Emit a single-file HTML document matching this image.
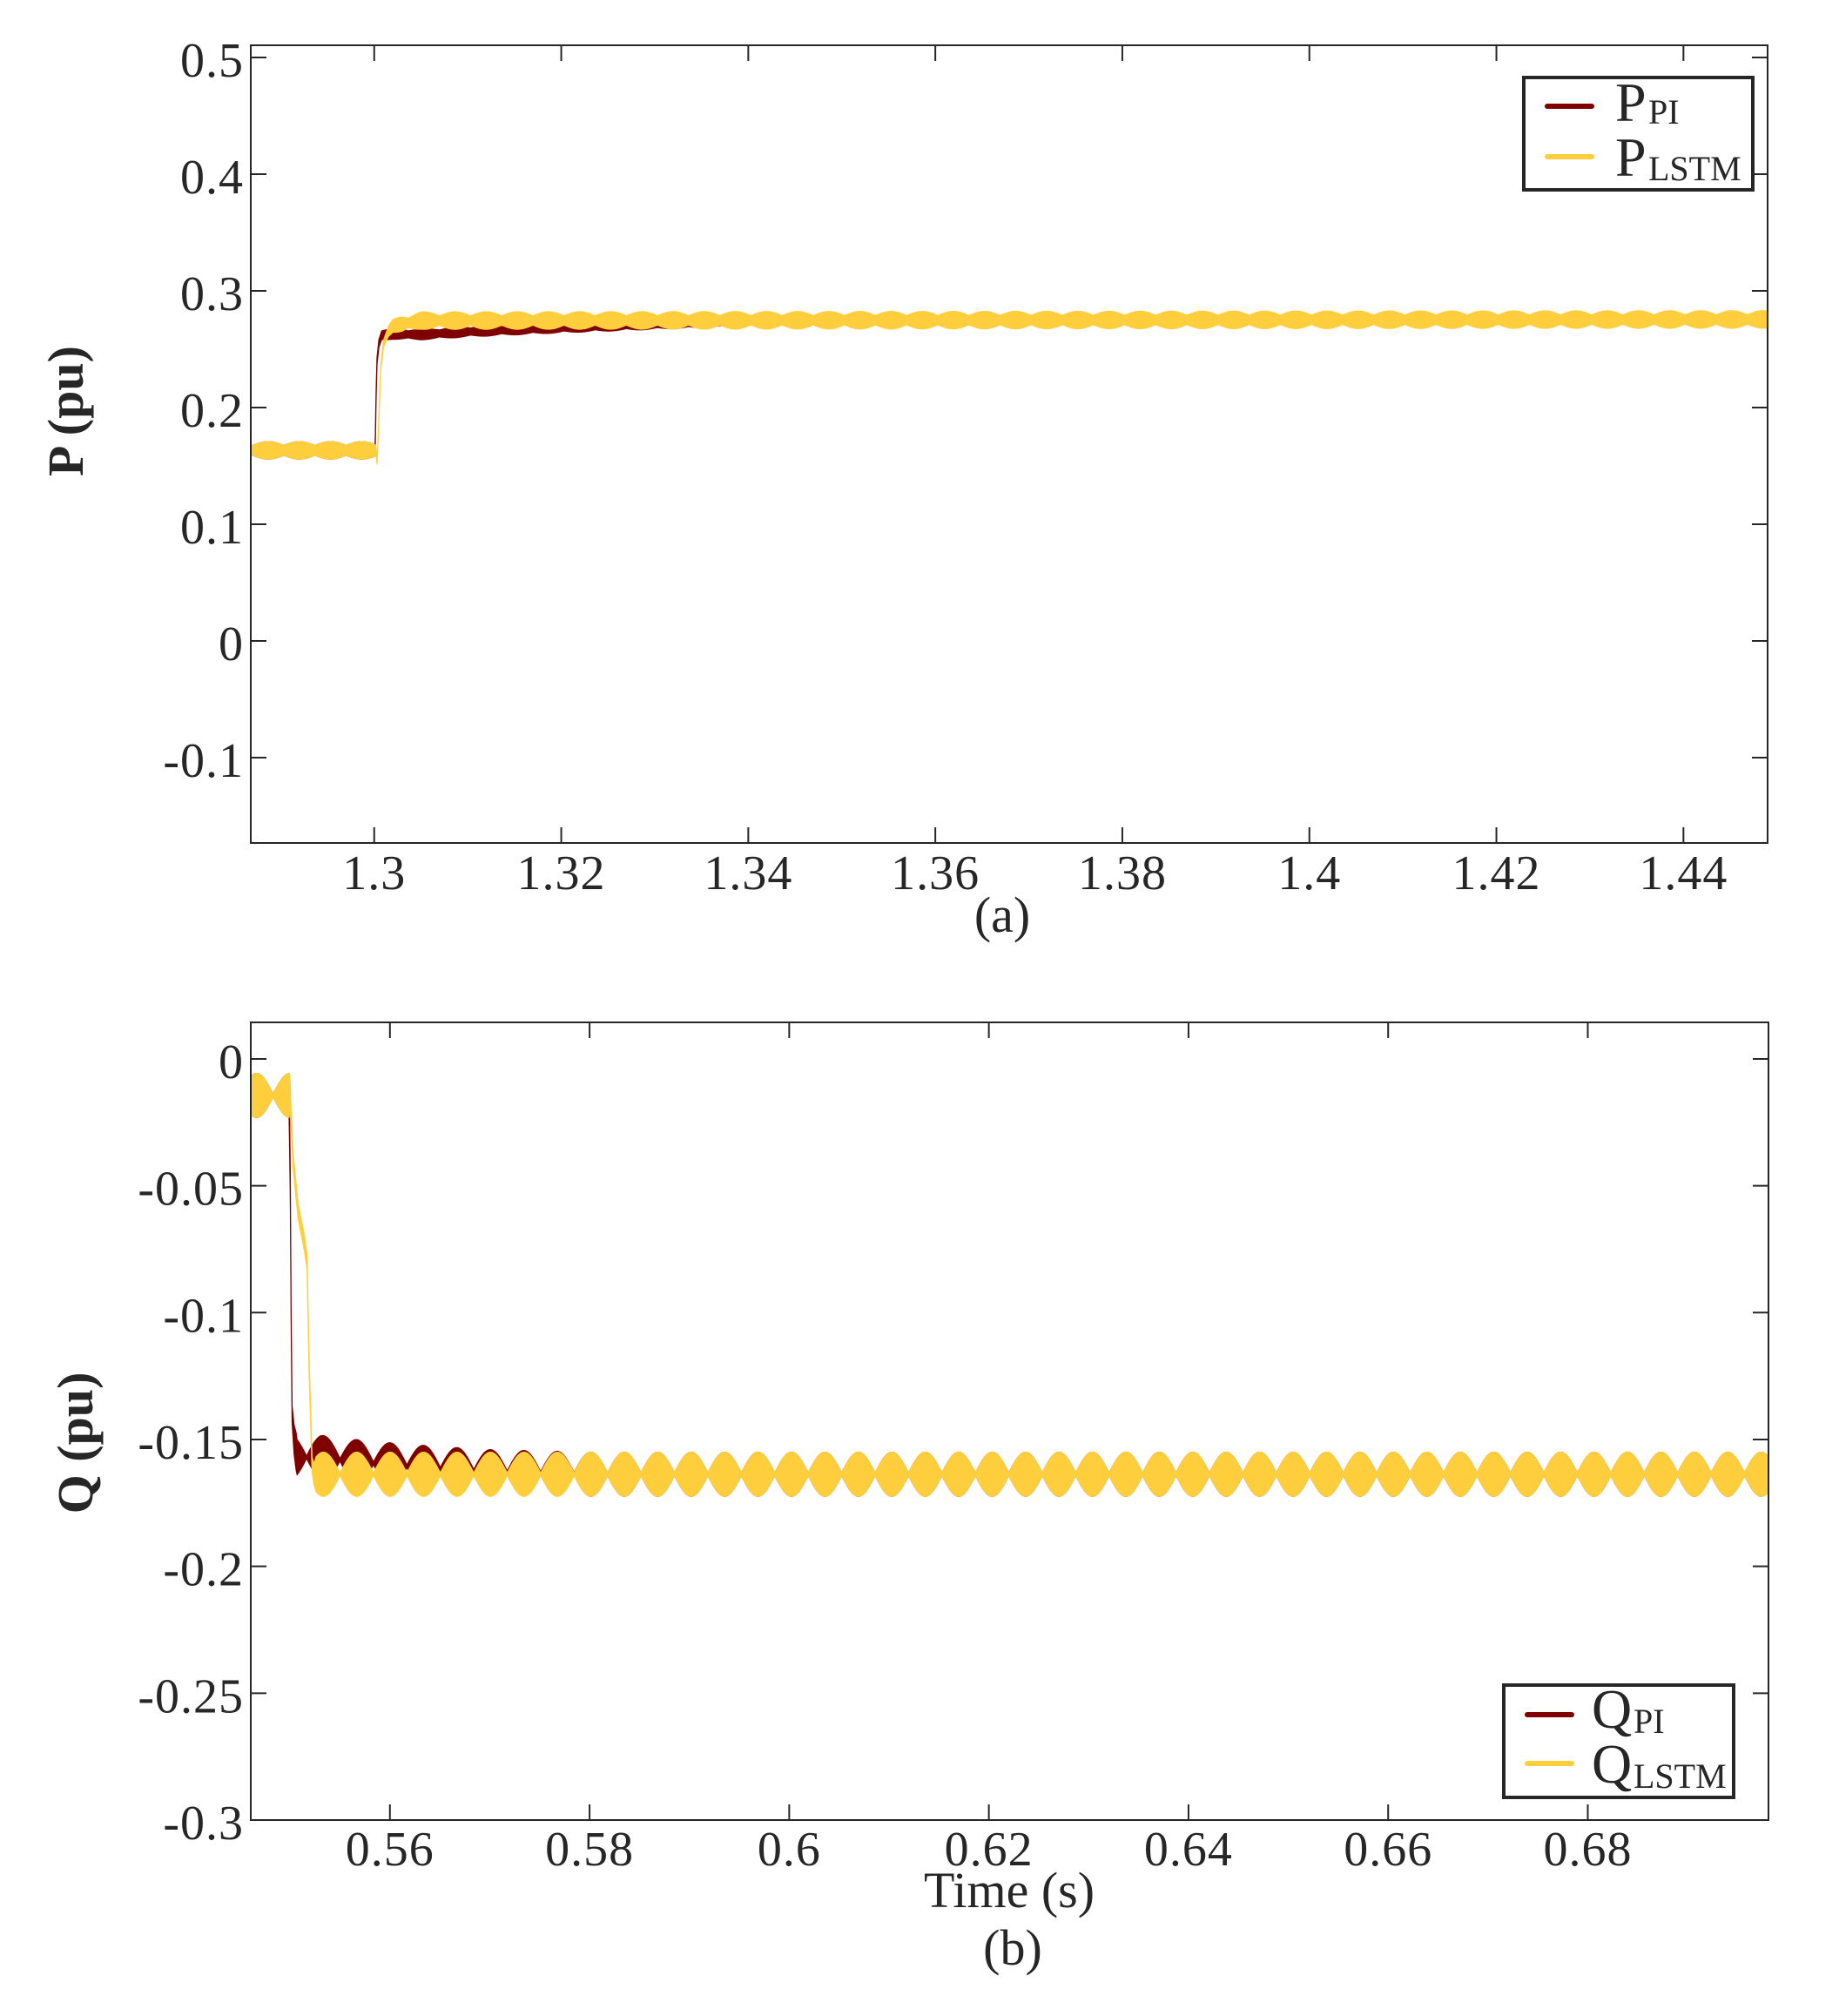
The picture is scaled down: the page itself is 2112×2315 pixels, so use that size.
<!DOCTYPE html>
<html><head><meta charset="utf-8">
<style>
html,body{margin:0;padding:0;background:#fff;}
svg{display:block;}
text{font-family:"Liberation Serif",serif;fill:#262626;}
</style></head>
<body>
<svg id="fig" width="2112" height="2315" viewBox="0 0 2112 2315" xmlns="http://www.w3.org/2000/svg">
<rect width="2112" height="2315" fill="#fff"/>
<g id="pa"></g>
<g id="pb"></g>
<text x="0" y="0" font-size="58" font-weight="bold" text-anchor="middle" transform="translate(95,472) rotate(-90)">P (pu)</text>
<text x="0" y="0" font-size="58" font-weight="bold" text-anchor="middle" transform="translate(106,1657) rotate(-90)">Q (pu)</text>
<text x="1151" y="1070" font-size="58" text-anchor="middle">(a)</text>
<text x="1159" y="2190" font-size="58" text-anchor="middle">Time (s)</text>
<text x="1163" y="2256" font-size="58" text-anchor="middle">(b)</text>
</svg>
<script>
// ---------- Plot (a): P ----------
const pXTicks = [1.3, 1.32, 1.34, 1.36, 1.38, 1.4, 1.42, 1.44];
const pXTickLabels = ["1.3","1.32","1.34","1.36","1.38","1.4","1.42","1.44"];
const pYTicks = [-0.1, 0, 0.1, 0.2, 0.3, 0.4, 0.5];
const pYTickLabels = ["-0.1","0","0.1","0.2","0.3","0.4","0.5"];
const pLstmT = [1.2868, 1.3002, 1.3003, 1.3005, 1.3007, 1.3010, 1.3015, 1.302, 1.305, 1.449];
const pLstmV = [0.1633, 0.1633, 0.152, 0.19, 0.235, 0.255, 0.265, 0.270, 0.2745, 0.2755];
const pLstmHwT = [1.2868, 1.3001, 1.3003, 1.303, 1.449];
const pLstmLobe = [0.0075, 0.0075, 0.002, 0.0075, 0.0075];
const pLstmNode = [0.0042, 0.0042, 0.001, 0.004, 0.004];
const pPiT = [1.2868, 1.3001, 1.3002, 1.3003, 1.3005, 1.3008, 1.302, 1.305, 1.31, 1.32, 1.33, 1.34, 1.35, 1.449];
const pPiV = [0.1633, 0.1633, 0.21, 0.24, 0.255, 0.262, 0.263, 0.2625, 0.265, 0.2685, 0.2715, 0.274, 0.2755, 0.2755];
const pPiHwT = [1.2868, 1.3001, 1.3003, 1.449];
const pPiLobe = [0.0075, 0.0075, 0.0045, 0.0045];
const pPiNode = [0.0042, 0.0042, 0.003, 0.003];
const pPeriod = 0.00333;
const pPhase = 1.2870;

// ---------- Plot (b): Q ----------
const qXTicks = [0.56, 0.58, 0.6, 0.62, 0.64, 0.66, 0.68];
const qXTickLabels = ["0.56","0.58","0.6","0.62","0.64","0.66","0.68"];
const qYTicks = [-0.3, -0.25, -0.2, -0.15, -0.1, -0.05, 0];
const qYTickLabels = ["-0.3","-0.25","-0.2","-0.15","-0.1","-0.05","0"];
const qLstmT = [0.54606, 0.5500, 0.5503, 0.5508, 0.5514, 0.5517, 0.5519, 0.5522, 0.5524, 0.6981];
const qLstmV = [-0.0144, -0.0144, -0.04, -0.06, -0.072, -0.08, -0.12, -0.16, -0.1637, -0.1637];
const qLstmHwT = [0.54606, 0.5499, 0.5501, 0.5522, 0.5526, 0.6981];
const qLstmLobe = [0.0087, 0.0087, 0.003, 0.003, 0.0087, 0.0087];
const qLstmNode = [0.0005, 0.0005, 0.003, 0.003, 0.0005, 0.0005];
const qPiT = [0.54606, 0.5499, 0.55002, 0.5501, 0.5502, 0.5504, 0.5507, 0.553, 0.556, 0.56, 0.565, 0.57, 0.58, 0.6981];
const qPiV = [-0.0144, -0.0144, -0.05, -0.10, -0.14, -0.150, -0.157, -0.157, -0.1585, -0.160, -0.1615, -0.1627, -0.1637, -0.1637];
const qPiHwT = [0.54606, 0.5499, 0.5501, 0.5506, 0.6981];
const qPiLobe = [0.0087, 0.0087, 0.002, 0.0087, 0.0087];
const qPiNode = [0.0005, 0.0005, 0.002, 0.0005, 0.0005];
const qPeriod = 0.00335;
const qPhase = 0.5550;

const NS = "http://www.w3.org/2000/svg";
const RED = "#7f0000", YEL = "#ffce3d", INK = "#262626";

function interp(ts, vs, t){
  if (t <= ts[0]) return vs[0];
  for (let i = 1; i < ts.length; i++){
    if (t <= ts[i]){ const f = (t - ts[i-1]) / (ts[i] - ts[i-1]); return vs[i-1] + f * (vs[i] - vs[i-1]); }
  }
  return vs[vs.length-1];
}
function mk(tag, attrs, parent){
  const e = document.createElementNS(NS, tag);
  for (const k in attrs) e.setAttribute(k, attrs[k]);
  parent.appendChild(e); return e;
}

function drawAxes(g, ax, xTicks, xLabels, yTicks, yLabels, xLabelBase){
  for (let i = 0; i < xTicks.length; i++){
    const x = ax.sx(xTicks[i]);
    const t1 = mk("line", {x1:x, x2:x, y1:ax.bottom, y2:ax.bottom-18, stroke:INK, "stroke-width":2}, g);
    
    
    const t2 = mk("line", {x1:x, x2:x, y1:ax.top, y2:ax.top+18, stroke:INK, "stroke-width":2}, g);
    
    
    const tx = mk("text", {x:x, y:xLabelBase, "font-size":56, "text-anchor":"middle", "letter-spacing":"1"}, g);
    tx.textContent = xLabels[i];
    
    
  }
  for (let i = 0; i < yTicks.length; i++){
    const y = ax.sy(yTicks[i]);
    const t1 = mk("line", {x1:ax.left, x2:ax.left+18, y1:y, y2:y, stroke:INK, "stroke-width":2}, g);
    
    
    const t2 = mk("line", {x1:ax.right, x2:ax.right-18, y1:y, y2:y, stroke:INK, "stroke-width":2}, g);
    
    
    const tx = mk("text", {x:ax.left-8, y:y+22, "font-size":56, "text-anchor":"end", "letter-spacing":"1"}, g);
    tx.textContent = yLabels[i];
    
    
  }
}

function band(g, ax, cT, cV, hT, lobe, node, period, phase, color, name){
  const pts = [], low = [];
  const step = 0.25 / ax.kx;
  for (let t = ax.x0; t <= ax.x1; t += step){
    const c = interp(cT, cV, t);
    const lb = interp(hT, lobe, t), nd = interp(hT, node, t);
    const s = Math.abs(Math.sin(Math.PI * (t - phase) / period));
    const hw = nd + (lb - nd) * s;
    const x = ax.sx(t).toFixed(2);
    pts.push(x + "," + ax.sy(c + hw).toFixed(2));
    low.push(x + "," + ax.sy(c - hw).toFixed(2));
  }
  const d = "M" + pts.join("L") + "L" + low.reverse().join("L") + "Z";
  const p = mk("path", {d:d, fill:color, stroke:color, "stroke-width":1.2, "clip-path":"url(#" + ax.clip + ")"}, g);
  
  
}

function makeAxes(left, right, top, bottom, x0, x1, y0, y1, clip){
  const ax = {left, right, top, bottom, x0, x1, y0, y1, clip};
  ax.kx = (right - left) / (x1 - x0);
  ax.sx = v => left + (v - x0) * ax.kx;
  ax.sy = v => bottom - (v - y0) * (bottom - top) / (y1 - y0);
  return ax;
}

function legend(g, x0, y0, x1, y1, sym, rows){
  const r = mk("rect", {x:x0, y:y0, width:x1-x0, height:y1-y0, fill:"#fff", stroke:INK, "stroke-width":4}, g);
  
  
  rows.forEach(row => {
    const l = mk("line", {x1:row.lx, x2:row.lx+51, y1:row.ly, y2:row.ly, stroke:row.color, "stroke-width":6, "stroke-linecap":"round"}, g);
    
    
    const t = mk("text", {x:row.tx, y:row.ty, "font-size":64, fill:"#000"}, g);
    
    
    const a = mk("tspan", {}, t); a.textContent = sym;
    const b = mk("tspan", {"font-size":40, x:row.sx, y:row.sy}, t); b.textContent = row.sub;
  });
}

const svg = document.getElementById("fig");
const defs = mk("defs", {}, svg);

const axA = makeAxes(288, 2030, 52, 968, 1.2868, 1.4490, -0.1731, 0.5104, "clipA");
const cpA = mk("clipPath", {id:"clipA"}, defs);
mk("rect", {x:288, y:52, width:1742, height:916}, cpA);
const ga = document.getElementById("pa");
band(ga, axA, pPiT, pPiV, pPiHwT, pPiLobe, pPiNode, pPeriod, pPhase, RED, "series-p-pi");
band(ga, axA, pLstmT, pLstmV, pLstmHwT, pLstmLobe, pLstmNode, pPeriod, pPhase, YEL, "series-p-lstm");
const frA = mk("rect", {x:288, y:52, width:1742, height:916, fill:"none", stroke:INK, "stroke-width":2}, ga);


drawAxes(ga, axA, pXTicks, pXTickLabels, pYTicks, pYTickLabels, 1021);
legend(ga, 1750, 89, 2013, 218, "P", [
  {lx:1777, ly:122, color:RED, tx:1855, ty:139, sub:"PI", sx:1893, sy:142},
  {lx:1777, ly:180, color:YEL, tx:1855, ty:202, sub:"LSTM", sx:1893, sy:207}
]);

const axB = makeAxes(288, 2031, 1174, 2090, 0.54606, 0.6981, -0.3, 0.0144, "clipB");
const cpB = mk("clipPath", {id:"clipB"}, defs);
mk("rect", {x:288, y:1174, width:1743, height:916}, cpB);
const gb = document.getElementById("pb");
band(gb, axB, qPiT, qPiV, qPiHwT, qPiLobe, qPiNode, qPeriod, qPhase, RED, "series-q-pi");
band(gb, axB, qLstmT, qLstmV, qLstmHwT, qLstmLobe, qLstmNode, qPeriod, qPhase, YEL, "series-q-lstm");
const frB = mk("rect", {x:288, y:1174, width:1743, height:916, fill:"none", stroke:INK, "stroke-width":2}, gb);


drawAxes(gb, axB, qXTicks, qXTickLabels, qYTicks, qYTickLabels, 2142);
legend(gb, 1727, 1935, 1991, 2064, "Q", [
  {lx:1754, ly:1969, color:RED, tx:1828, ty:1984, sub:"PI", sx:1876, sy:1990},
  {lx:1754, ly:2025, color:YEL, tx:1828, ty:2047, sub:"LSTM", sx:1876, sy:2053}
]);
</script>
</body></html>
